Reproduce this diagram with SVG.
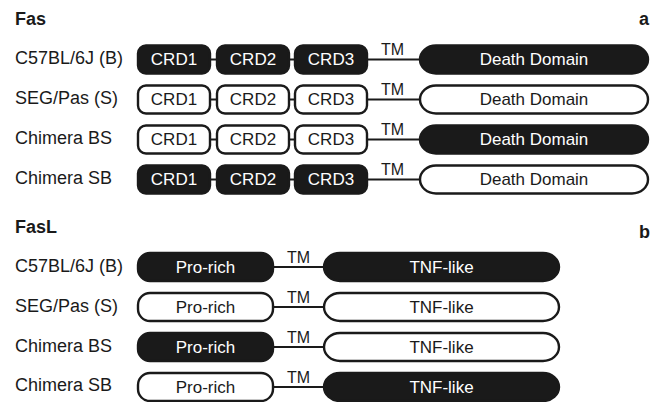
<svg xmlns="http://www.w3.org/2000/svg" width="651" height="402" viewBox="0 0 651 402">
<style>
text{font-family:"Liberation Sans",Arial,sans-serif;fill:#1a1a1a}
.h{font-weight:bold;font-size:18px}
.lab{font-size:18px}
.tm{font-size:16px}
.dt{font-size:17px;text-anchor:middle}
.b{fill:#1a1a1a;stroke:#1a1a1a;stroke-width:2.4}
.w{fill:#fff;stroke:#1a1a1a;stroke-width:2.4}
.bt{fill:#fff}
.ln{stroke:#1a1a1a;stroke-width:2.2;fill:none}
</style>
<rect width="651" height="402" fill="#fff"/>
<text class="h" x="15" y="25">Fas</text>
<text class="h" x="639" y="25">a</text>
<text class="h" x="15" y="233">FasL</text>
<text class="h" x="639" y="238">b</text>
<g id="labels">
<text class="lab" x="15" y="64">C57BL/6J (B)</text>
<text class="lab" x="15" y="104">SEG/Pas (S)</text>
<text class="lab" x="15" y="144">Chimera BS</text>
<text class="lab" x="15" y="184">Chimera SB</text>
<text class="lab" x="15" y="272">C57BL/6J (B)</text>
<text class="lab" x="15" y="312">SEG/Pas (S)</text>
<text class="lab" x="15" y="352">Chimera BS</text>
<text class="lab" x="15" y="391">Chimera SB</text>
</g>
<g id="connectors">
<path class="ln" d="M210 59.5H217M289 59.5H295M367 59.5H420"/>
<path class="ln" d="M210 99.5H217M289 99.5H295M367 99.5H420"/>
<path class="ln" d="M210 139.5H217M289 139.5H295M367 139.5H420"/>
<path class="ln" d="M210 179.5H217M289 179.5H295M367 179.5H420"/>
<path class="ln" d="M273 267H324M273 307H324M273 347H324M273 387H324"/>
</g>
<g id="tm-labels">
<text class="tm" x="381" y="55">TM</text>
<text class="tm" x="381" y="95">TM</text>
<text class="tm" x="381" y="135">TM</text>
<text class="tm" x="381" y="175">TM</text>
<text class="tm" x="287" y="263">TM</text>
<text class="tm" x="287" y="303">TM</text>
<text class="tm" x="287" y="343">TM</text>
<text class="tm" x="287" y="383">TM</text>
</g>
<g id="fas-B">
<g id="fasB-crd1"><rect class="b" x="138" y="45.5" width="72" height="28" rx="8"/><text class="dt bt" x="174" y="65">CRD1</text></g>
<g id="fasB-crd2"><rect class="b" x="217" y="45.5" width="72" height="28" rx="8"/><text class="dt bt" x="253" y="65">CRD2</text></g>
<g id="fasB-crd3"><rect class="b" x="295" y="45.5" width="72" height="28" rx="8"/><text class="dt bt" x="331" y="65">CRD3</text></g>
<g id="fasB-dd"><rect class="b" x="420" y="45.5" width="228" height="28" rx="16" ry="14"/><text class="dt bt" x="534" y="65">Death Domain</text></g>
</g>
<g id="fas-S">
<g id="fasS-crd1"><rect class="w" x="138" y="85.5" width="72" height="28" rx="8"/><text class="dt" x="174" y="105">CRD1</text></g>
<g id="fasS-crd2"><rect class="w" x="217" y="85.5" width="72" height="28" rx="8"/><text class="dt" x="253" y="105">CRD2</text></g>
<g id="fasS-crd3"><rect class="w" x="295" y="85.5" width="72" height="28" rx="8"/><text class="dt" x="331" y="105">CRD3</text></g>
<g id="fasS-dd"><rect class="w" x="420" y="85.5" width="228" height="28" rx="16" ry="14"/><text class="dt" x="534" y="105">Death Domain</text></g>
</g>
<g id="fas-BS">
<g id="fasBS-crd1"><rect class="w" x="138" y="125.5" width="72" height="28" rx="8"/><text class="dt" x="174" y="145">CRD1</text></g>
<g id="fasBS-crd2"><rect class="w" x="217" y="125.5" width="72" height="28" rx="8"/><text class="dt" x="253" y="145">CRD2</text></g>
<g id="fasBS-crd3"><rect class="w" x="295" y="125.5" width="72" height="28" rx="8"/><text class="dt" x="331" y="145">CRD3</text></g>
<g id="fasBS-dd"><rect class="b" x="420" y="125.5" width="228" height="28" rx="16" ry="14"/><text class="dt bt" x="534" y="145">Death Domain</text></g>
</g>
<g id="fas-SB">
<g id="fasSB-crd1"><rect class="b" x="138" y="165.5" width="72" height="28" rx="8"/><text class="dt bt" x="174" y="185">CRD1</text></g>
<g id="fasSB-crd2"><rect class="b" x="217" y="165.5" width="72" height="28" rx="8"/><text class="dt bt" x="253" y="185">CRD2</text></g>
<g id="fasSB-crd3"><rect class="b" x="295" y="165.5" width="72" height="28" rx="8"/><text class="dt bt" x="331" y="185">CRD3</text></g>
<g id="fasSB-dd"><rect class="w" x="420" y="165.5" width="228" height="28" rx="16" ry="14"/><text class="dt" x="534" y="185">Death Domain</text></g>
</g>
<g id="fasl-B">
<g id="faslB-pro"><rect class="b" x="138" y="253" width="135" height="28" rx="12"/><text class="dt bt" x="205.5" y="273">Pro-rich</text></g>
<g id="faslB-tnf"><rect class="b" x="324" y="253" width="235" height="28" rx="16" ry="14"/><text class="dt bt" x="441.5" y="273">TNF-like</text></g>
</g>
<g id="fasl-S">
<g id="faslS-pro"><rect class="w" x="138" y="293" width="135" height="28" rx="12"/><text class="dt" x="205.5" y="313">Pro-rich</text></g>
<g id="faslS-tnf"><rect class="w" x="324" y="293" width="235" height="28" rx="16" ry="14"/><text class="dt" x="441.5" y="313">TNF-like</text></g>
</g>
<g id="fasl-BS">
<g id="faslBS-pro"><rect class="b" x="138" y="333" width="135" height="28" rx="12"/><text class="dt bt" x="205.5" y="353">Pro-rich</text></g>
<g id="faslBS-tnf"><rect class="w" x="324" y="333" width="235" height="28" rx="16" ry="14"/><text class="dt" x="441.5" y="353">TNF-like</text></g>
</g>
<g id="fasl-SB">
<g id="faslSB-pro"><rect class="w" x="138" y="373" width="135" height="28" rx="12"/><text class="dt" x="205.5" y="393">Pro-rich</text></g>
<g id="faslSB-tnf"><rect class="b" x="324" y="373" width="235" height="28" rx="16" ry="14"/><text class="dt bt" x="441.5" y="393">TNF-like</text></g>
</g>
</svg>
